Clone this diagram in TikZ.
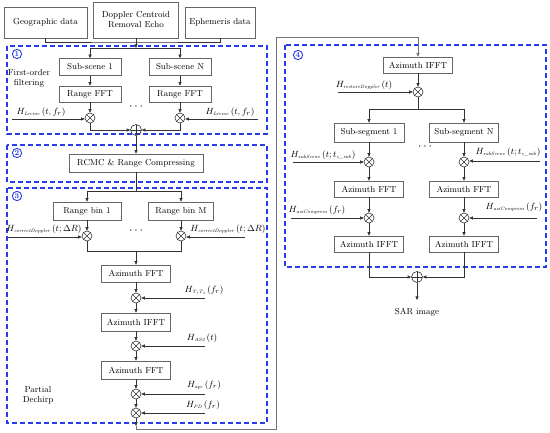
\documentclass[tikz,border=0pt]{standalone}
\usetikzlibrary{arrows.meta,calc}
\definecolor{dblue}{RGB}{40,60,235}
\newcommand\hsub[1]{\mbox{\fontsize{4.8}{5}\selectfont\itshape #1}}
\begin{document}
\begin{tikzpicture}[x=1pt,y=-1pt,
  box/.style={draw=black!60,line width=0.6pt,fill=white,inner sep=0pt,font=\fontsize{8.7}{10}\selectfont,align=center},
  ln/.style={draw=black!80,line width=0.6pt},
  arr/.style={ln,-{Triangle[length=3.5pt,width=3pt]}},
  rline/.style={draw=black!55,line width=0.7pt,-{Triangle[length=3.5pt,width=3pt]}},
  mul/.style={circle,draw=black!80,line width=0.6pt,minimum size=10pt,inner sep=0pt,
    path picture={\draw[black!80,line width=0.6pt]
      ($(path picture bounding box.center)+(45:5pt)$)--($(path picture bounding box.center)+(225:5pt)$)
      ($(path picture bounding box.center)+(135:5pt)$)--($(path picture bounding box.center)+(315:5pt)$);}},
  add/.style={circle,draw=black!80,line width=0.6pt,minimum size=11pt,inner sep=0pt,
    path picture={\draw[black!80,line width=0.6pt]
      (path picture bounding box.north)--(path picture bounding box.south)
      (path picture bounding box.east)--(path picture bounding box.west);}},
  dbox/.style={draw=dblue,line width=1.2pt,dash pattern=on 5pt off 3pt},
  num/.style={circle,draw=dblue,text=dblue,line width=0.9pt,inner sep=0.9pt,font=\bfseries\fontsize{7.5}{7.5}\selectfont},
  lab/.style={font=\fontsize{9.3}{10}\selectfont,inner sep=0pt},
  txt/.style={font=\fontsize{8.7}{10}\selectfont,align=center,inner sep=0pt},
  dots/.style={font=\fontsize{12}{12}\selectfont,inner sep=0pt}
]
\useasboundingbox (0,0) rectangle (550,433);

% dashed frames
\draw[dbox] (7,46) rectangle (267,134);
\draw[dbox] (7,145) rectangle (267,182);
\draw[dbox] (7,188) rectangle (267,423);
\draw[dbox] (285,45) rectangle (546,267);
\node[num] (n1) at (17,54) {1};
\node[num] (n2) at (17,153) {2};
\node[num] (n3) at (17,196) {3};
\node[num] (n4) at (298,55) {4};

% top inputs
\node[box,minimum width=83pt,minimum height=31pt] (geo) at (45.5,22.5) {Geographic data};
\node[box,minimum width=85pt,minimum height=36pt] (dop) at (136,20) {Doppler Centroid\\Removal Echo};
\node[box,minimum width=70pt,minimum height=31pt] (eph) at (220,22.5) {Ephemeris data};
\coordinate (j0) at (136,42);
\coordinate (j0b) at (136,48);
\coordinate (b1) at (90,48);
\coordinate (b2) at (180,48);
\draw[ln] (geo.south) |- (j0) -| (eph.south);
\draw[ln] (dop.south) -- (j0);
\draw[arr] (j0) -- (j0b);
\draw[ln] (b1) -- (b2);

% section 1
\node[txt] (fo) at (29,78) {First-order\\filtering};
\node[box,minimum width=62pt,minimum height=17pt] (ss1) at (90,67) {Sub-scene 1};
\node[box,minimum width=62pt,minimum height=17pt] (ssN) at (180,67) {Sub-scene N};
\node[box,minimum width=62pt,minimum height=16pt] (rf1) at (90,94) {Range FFT};
\node[box,minimum width=62pt,minimum height=16pt] (rfN) at (180,94) {Range FFT};
\node[mul] (m1) at (90,118) {};
\node[mul] (m2) at (180,118) {};
\node[add] (p1) at (136,130) {};
\node[dots] (d1) at (136,107) {$\cdots$};
\draw[arr] (b1) -- (ss1.north);
\draw[arr] (b2) -- (ssN.north);
\draw[arr] (ss1.south) -- (rf1.north);
\draw[arr] (ssN.south) -- (rfN.north);
\draw[arr] (rf1.south) -- (m1.north);
\draw[arr] (rfN.south) -- (m2.north);
\coordinate (h1) at (12,119);
\coordinate (h2) at (258,119);
\draw[arr] (h1) -- (m1.west |- h1);
\draw[arr] (h2) -- (m2.east |- h2);
\node[lab] (lh1) at (41,112) {$H_{\hsub{Lrcmc}}\left(t,f_r\right)$};
\node[lab] (lh2) at (230,112) {$H_{\hsub{Lrcmc}}\left(t,f_r\right)$};
\draw[arr] (m1.south) |- (p1.west);
\draw[arr] (m2.south) |- (p1.east);

% section 2
\node[box,minimum width=134pt,minimum height=18pt] (rcmc) at (136,163) {RCMC \& Range Compressing};
\draw[arr] (p1.south) -- (rcmc.north);

% section 3
\coordinate (j1) at (136,191);
\coordinate (b3) at (87,191);
\coordinate (b4) at (181,191);
\draw[ln] (rcmc.south) -- (j1);
\draw[ln] (b3) -- (b4);
\node[box,minimum width=68pt,minimum height=18pt] (rb1) at (87,211) {Range bin 1};
\node[box,minimum width=65pt,minimum height=18pt] (rbM) at (181,211) {Range bin M};
\draw[arr] (b3) -- (rb1.north);
\draw[arr] (b4) -- (rbM.north);
\node[mul] (m3) at (87,236) {};
\node[mul] (m4) at (181,236) {};
\node[dots] (d2) at (136,231) {$\cdots$};
\draw[arr] (rb1.south) -- (m3.north);
\draw[arr] (rbM.south) -- (m4.north);
\coordinate (h3) at (8,237);
\coordinate (h4) at (245,237);
\draw[arr] (h3) -- (m3.west |- h3);
\draw[arr] (h4) -- (m4.east |- h4);
\node[lab] (lh3) at (44,229) {$H_{\hsub{correctDoppler}}\left(t;\Delta R\right)$};
\node[lab] (lh4) at (228,229) {$H_{\hsub{correctDoppler}}\left(t;\Delta R\right)$};
\coordinate (k1) at (87,251);
\coordinate (k2) at (181,251);
\coordinate (k0) at (136,251);
\draw[ln] (m3.south) -- (k1) -- (k2) -- (m4.south);
\node[box,minimum width=69pt,minimum height=17pt] (af1) at (136,273.5) {Azimuth FFT};
\draw[arr] (k0) -- (af1.north);
\node[mul] (c1) at (136,298) {};
\node[box,minimum width=69pt,minimum height=18pt] (aif1) at (136,322) {Azimuth IFFT};
\node[mul] (c2) at (136,346) {};
\node[box,minimum width=69pt,minimum height=18pt] (af2) at (136,370) {Azimuth FFT};
\node[mul] (c3) at (136,394) {};
\node[mul] (c4) at (136,413) {};
\draw[arr] (af1.south) -- (c1.north);
\draw[arr] (c1.south) -- (aif1.north);
\draw[arr] (aif1.south) -- (c2.north);
\draw[arr] (c2.south) -- (af2.north);
\draw[arr] (af2.south) -- (c3.north);
\draw[arr] (c3.south) -- (c4.north);
\coordinate (g1) at (205,298);
\coordinate (g2) at (205,346);
\coordinate (g3) at (205,394);
\coordinate (g4) at (205,413);
\draw[arr] (g1) -- (c1.east);
\draw[arr] (g2) -- (c2.east);
\draw[arr] (g3) -- (c3.east);
\draw[arr] (g4) -- (c4.east);
\node[lab] (lg1) at (204,290) {$H_{\hsub{T\textsubscript{1}T\textsubscript{2}}}\left(f_r\right)$};
\node[lab] (lg2) at (202,338) {$H_{\hsub{AS2}}\left(t\right)$};
\node[lab] (lg3) at (204,385) {$H_{\hsub{apc}}\left(f_r\right)$};
\node[lab] (lg4) at (203,405) {$H_{\hsub{PD}}\left(f_r\right)$};
\node[txt] (pd) at (38,395) {Partial\\Dechirp};

% return path
\coordinate (r0) at (136,426);
\coordinate (r1) at (136,429);
\coordinate (r2) at (276,37);
\draw[arr] (c4.south) -- (r0);
\draw[draw=black!55,line width=0.7pt] (r0) -- (r1) -| (r2);

% section 4
\node[box,minimum width=69pt,minimum height=16pt] (aif4) at (418,65) {Azimuth IFFT};
\draw[rline] (r2) -| (aif4.north);
\node[mul] (c5) at (418,92) {};
\draw[arr] (aif4.south) -- (c5.north);
\coordinate (h5) at (338,92);
\draw[arr] (h5) -- (c5.west);
\node[lab] (lh5) at (364,85) {$H_{\hsub{restoreDoppler}}\left(t\right)$};
\coordinate (j2) at (418,109);
\coordinate (b5) at (369,109);
\coordinate (b6) at (464,109);
\draw[ln] (c5.south) -- (j2);
\draw[ln] (b5) -- (b6);
\node[box,minimum width=70pt,minimum height=19pt] (sg1) at (369,132.5) {Sub-segment 1};
\node[box,minimum width=69pt,minimum height=19pt] (sgN) at (464,132.5) {Sub-segment N};
\draw[arr] (b5) -- (sg1.north);
\draw[arr] (b6) -- (sgN.north);
\node[mul] (c6) at (369,162) {};
\node[mul] (c7) at (464,162) {};
\node[dots] (d3) at (425,147) {$\cdots$};
\draw[arr] (sg1.south) -- (c6.north);
\draw[arr] (sgN.south) -- (c7.north);
\coordinate (h6) at (293,162);
\coordinate (h7) at (540,161);
\draw[arr] (h6) -- (c6.west);
\draw[arr] (h7) -- (c7.east |- h7);
\node[lab] (lh6) at (323,155) {$H_{\hsub{subScene}}\left(t;t_{\hsub{c\_sub}}\right)$};
\node[lab] (lh7) at (508,152) {$H_{\hsub{subScene}}\left(t;t_{\hsub{c\_sub}}\right)$};
\node[box,minimum width=69pt,minimum height=16pt] (af4) at (369,189) {Azimuth FFT};
\node[box,minimum width=69pt,minimum height=16pt] (af5) at (464,189) {Azimuth FFT};
\draw[arr] (c6.south) -- (af4.north);
\draw[arr] (c7.south) -- (af5.north);
\node[mul] (c8) at (369,218) {};
\node[mul] (c9) at (464,218) {};
\draw[arr] (af4.south) -- (c8.north);
\draw[arr] (af5.south) -- (c9.north);
\coordinate (h8) at (291,218);
\coordinate (h9) at (537,218);
\draw[arr] (h8) -- (c8.west);
\draw[arr] (h9) -- (c9.east);
\node[lab] (lh8) at (317,210) {$H_{\hsub{aziCompress}}\left(f_r\right)$};
\node[lab] (lh9) at (514,207) {$H_{\hsub{aziCompress}}\left(f_r\right)$};
\node[box,minimum width=69pt,minimum height=16pt] (aif5) at (369,244) {Azimuth IFFT};
\node[box,minimum width=69pt,minimum height=16pt] (aif6) at (464,244) {Azimuth IFFT};
\draw[arr] (c8.south) -- (aif5.north);
\draw[arr] (c9.south) -- (aif6.north);
\node[add] (p2) at (417,277) {};
\draw[arr] (aif5.south) |- (p2.west);
\draw[arr] (aif6.south) |- (p2.east);
\coordinate (s0) at (417,300);
\draw[arr] (p2.south) -- (s0);
\node[txt] (sar) at (417,312) {SAR image};
\end{tikzpicture}
\end{document}
